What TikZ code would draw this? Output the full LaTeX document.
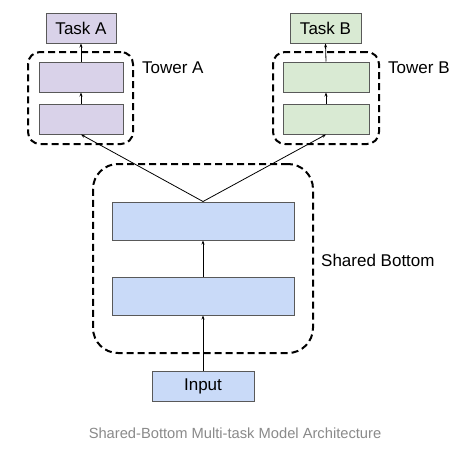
\documentclass[tikz,border=0pt]{standalone}
\usepackage{fontspec}
\setmainfont{Liberation Sans}
\usetikzlibrary{arrows.meta}
\definecolor{purp}{HTML}{D9D2E9}
\definecolor{grn}{HTML}{D9EAD3}
\definecolor{blu}{HTML}{C9DAF8}
\definecolor{bord}{HTML}{595959}
\definecolor{capgray}{HTML}{8A8A8A}
\begin{document}
\begin{tikzpicture}[x=1pt,y=-1pt,
  box/.style={draw=bord,line width=1pt,inner sep=0pt,font=\fontsize{17}{19}\selectfont},
  grp/.style={draw=black,line width=2pt,dash pattern=on 7pt off 4pt,inner sep=0pt,rounded corners=#1},
  lbl/.style={anchor=west,inner sep=0pt,font=\fontsize{17}{19}\selectfont},
  arr/.style={draw=black,line width=0.8pt,-{Stealth[length=4pt,width=3pt]}}]
\useasboundingbox[fill=white] (0,0) rectangle (456,458);
% Tower A
\node[grp=12pt,minimum width=105pt,minimum height=92pt] (gA) at (80.5,98) {};
\node[box,fill=purp,minimum width=70pt,minimum height=30pt] (taskA) at (81,28) {Task A};
\node[box,fill=purp,minimum width=84pt,minimum height=30pt] (a2) at (81,77) {};
\node[box,fill=purp,minimum width=84pt,minimum height=30pt] (a1) at (81,119) {};
\node[lbl] (lA) at (142,68) {Tower A};
% Tower B
\node[grp=12pt,minimum width=106pt,minimum height=92pt] (gB) at (326,98) {};
\node[box,fill=grn,minimum width=71pt,minimum height=30pt] (taskB) at (325.5,28) {Task B};
\node[box,fill=grn,minimum width=86pt,minimum height=30pt] (b2) at (326,77) {};
\node[box,fill=grn,minimum width=86pt,minimum height=30pt] (b1) at (326,119) {};
\node[lbl] (lB) at (388,68) {Tower B};
% Shared
\node[grp=25pt,minimum width=220pt,minimum height=189pt] (gS) at (203,258.5) {};
\node[box,fill=blu,minimum width=182pt,minimum height=38pt] (s2) at (203,221) {};
\node[box,fill=blu,minimum width=182pt,minimum height=38pt] (s1) at (203,296) {};
\node[lbl] (lS) at (321,260) {Shared Bottom};
\node[box,fill=blu,minimum width=102pt,minimum height=30pt] (inp) at (203,386) {Input};
% arrows
\draw[arr] (inp.north) -- (s1.south);
\draw[arr] (s1.north) -- (s2.south);
\draw[arr] (s2.north) -- (a1.south);
\draw[arr] (s2.north) -- (b1.south);
\draw[arr] (a1.north) -- (a2.south);
\draw[arr] (a2.north) -- (taskA.south);
\draw[arr] (b1.north) -- (b2.south);
\draw[arr] (b2.north) -- (taskB.south);
% caption
\node[inner sep=0pt,text=capgray,font=\fontsize{14.7}{17}\selectfont] (cap) at (235,433) {Shared-Bottom Multi-task Model Architecture};
\end{tikzpicture}
\end{document}
